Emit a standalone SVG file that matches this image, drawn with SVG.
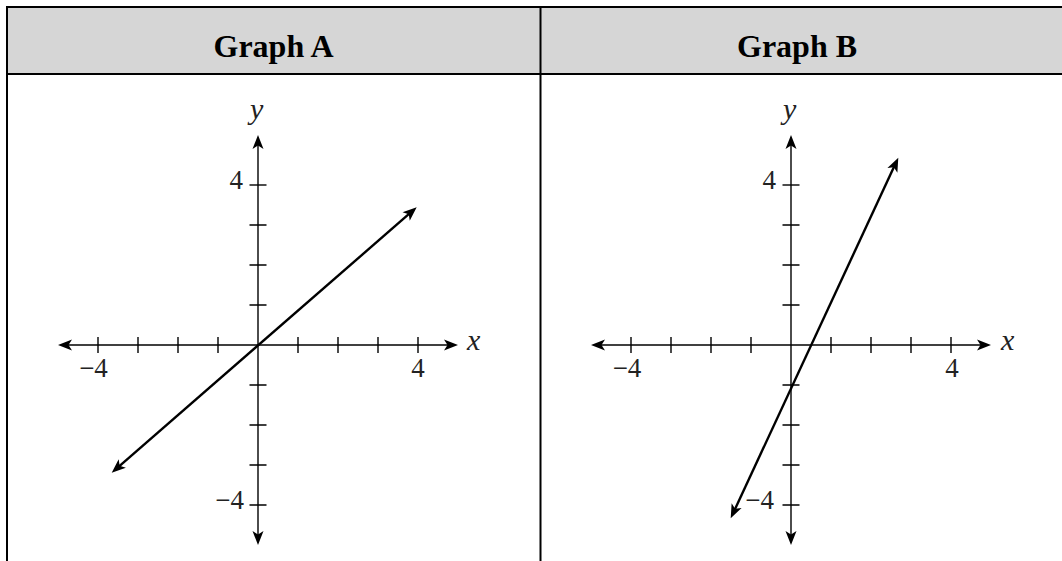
<svg xmlns="http://www.w3.org/2000/svg" width="1062" height="561" viewBox="0 0 1062 561">
<style>
.hdr{fill:#d6d6d6}
.border{stroke:#000;stroke-width:2;fill:none}
.title{font-family:"Liberation Serif","Times New Roman",serif;font-weight:bold;font-size:32px;text-anchor:middle;fill:#000}
.num{font-family:"Liberation Serif","Times New Roman",serif;font-size:27px;fill:#222}
.var{font-family:"Liberation Serif","Times New Roman",serif;font-style:italic;font-size:30px;fill:#222}
.axis{stroke:#000;stroke-width:1.4;fill:none}
.tick{stroke:#000;stroke-width:1.4}
.graph{stroke:#000;stroke-width:2.4;fill:none}
</style>
<defs>
<marker id="ah" markerUnits="userSpaceOnUse" viewBox="-8 -6 18 12" markerWidth="18" markerHeight="12" refX="0" refY="0" orient="auto-start-reverse">
<path d="M9,0 L-5,-5.5 L-1.5,0 L-5,5.5 Z" fill="#000"/>
</marker>
</defs>
<rect width="1062" height="561" fill="#fff"/>
<g id="table">
<rect class="hdr" x="7" y="7" width="1060" height="67"/>
<path class="border" d="M7,561 V7 H1070 M7,74 H1070 M540.5,7 V561"/>
<text class="title" x="273.5" y="57">Graph A</text>
<text class="title" x="797" y="57">Graph B</text>
</g>
<g id="graphA">
<g id="axesA">
<line class="axis" x1="67" y1="345" x2="449" y2="345" marker-start="url(#ah)" marker-end="url(#ah)"/>
<line class="axis" x1="258" y1="144" x2="258" y2="536" marker-start="url(#ah)" marker-end="url(#ah)"/>
<path class="tick" d="M98,337V353M138,337V353M178,337V353M218,337V353M298,337V353M338,337V353M378,337V353M418,337V353"/>
<path class="tick" d="M249.5,225H266.5M249.5,265H266.5M249.5,305H266.5M249.5,385H266.5M249.5,425H266.5M249.5,465H266.5M249.5,505H266.5"/>
<path class="tick" stroke-width="2" d="M249.5,185H266.5"/>
</g>
<text class="var" x="250" y="119">y</text>
<text class="var" x="467" y="350">x</text>
<text class="num" x="93.5" y="377" text-anchor="middle">−4</text>
<text class="num" x="418" y="377" text-anchor="middle">4</text>
<text class="num" x="243" y="189" text-anchor="end">4</text>
<text class="num" x="244" y="509" text-anchor="end">−4</text>
<line class="graph" x1="409.9" y1="213.2" x2="118.5" y2="466.8" marker-start="url(#ah)" marker-end="url(#ah)"/>
</g>
<g id="graphB">
<g id="axesB">
<line class="axis" x1="600" y1="345" x2="982" y2="345" marker-start="url(#ah)" marker-end="url(#ah)"/>
<line class="axis" x1="791" y1="144" x2="791" y2="536" marker-start="url(#ah)" marker-end="url(#ah)"/>
<path class="tick" d="M631,337V353M671,337V353M711,337V353M751,337V353M831,337V353M871,337V353M911,337V353M951,337V353"/>
<path class="tick" d="M782.5,225H799.5M782.5,265H799.5M782.5,305H799.5M782.5,385H799.5M782.5,425H799.5M782.5,465H799.5M782.5,505H799.5"/>
<path class="tick" stroke-width="2" d="M782.5,185H799.5"/>
</g>
<text class="var" x="783" y="119">y</text>
<text class="var" x="1001" y="350">x</text>
<text class="num" x="627" y="377" text-anchor="middle">−4</text>
<text class="num" x="952" y="377" text-anchor="middle">4</text>
<text class="num" x="776" y="189" text-anchor="end">4</text>
<text class="num" x="774" y="509" text-anchor="end">−4</text>
<line class="graph" x1="894.5" y1="165.8" x2="734.5" y2="510.2" marker-start="url(#ah)" marker-end="url(#ah)"/>
</g>
</svg>
